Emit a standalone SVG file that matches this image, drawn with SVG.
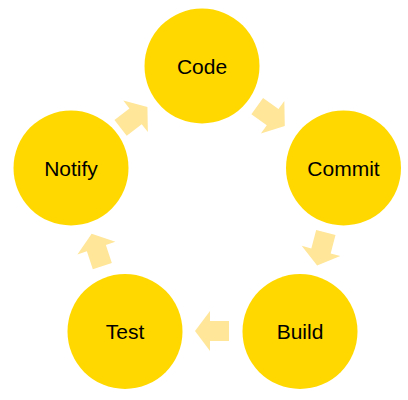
<svg xmlns="http://www.w3.org/2000/svg" width="408" height="400" viewBox="0 0 408 400">
<defs>
<style>
.node circle{fill:#FFD800;}
.node text{font-family:"Liberation Sans",Arial,sans-serif;font-size:21px;fill:#000;text-anchor:middle;}
.arr{fill:#FFE699;}
</style>
<polygon id="arrow" points="-17,-10 2,-10 2,-20 17,0 2,20 2,10 -17,10"/>
</defs>
<rect width="408" height="400" fill="#fff"/>
<g id="connectors">
<use href="#arrow" class="arr" transform="translate(271,116) rotate(35.8)"/>
<use href="#arrow" class="arr" transform="translate(321.5,249) rotate(104.8)"/>
<use href="#arrow" class="arr" transform="translate(212,331) rotate(180)"/>
<use href="#arrow" class="arr" transform="translate(97,250) rotate(251.7)"/>
<use href="#arrow" class="arr" transform="translate(134,117.5) rotate(-37.9)"/>
</g>
<g id="code" class="node"><circle cx="202" cy="66" r="57.5"/><text x="202" y="73.5">Code</text></g>
<g id="commit" class="node"><circle cx="343.5" cy="168" r="57.5"/><text x="343.5" y="175.5">Commit</text></g>
<g id="build" class="node"><circle cx="300" cy="331.5" r="57.5"/><text x="300" y="339">Build</text></g>
<g id="test" class="node"><circle cx="125" cy="331.5" r="57.5"/><text x="125" y="339">Test</text></g>
<g id="notify" class="node"><circle cx="71" cy="168" r="57.5"/><text x="71" y="175.5">Notify</text></g>
</svg>
